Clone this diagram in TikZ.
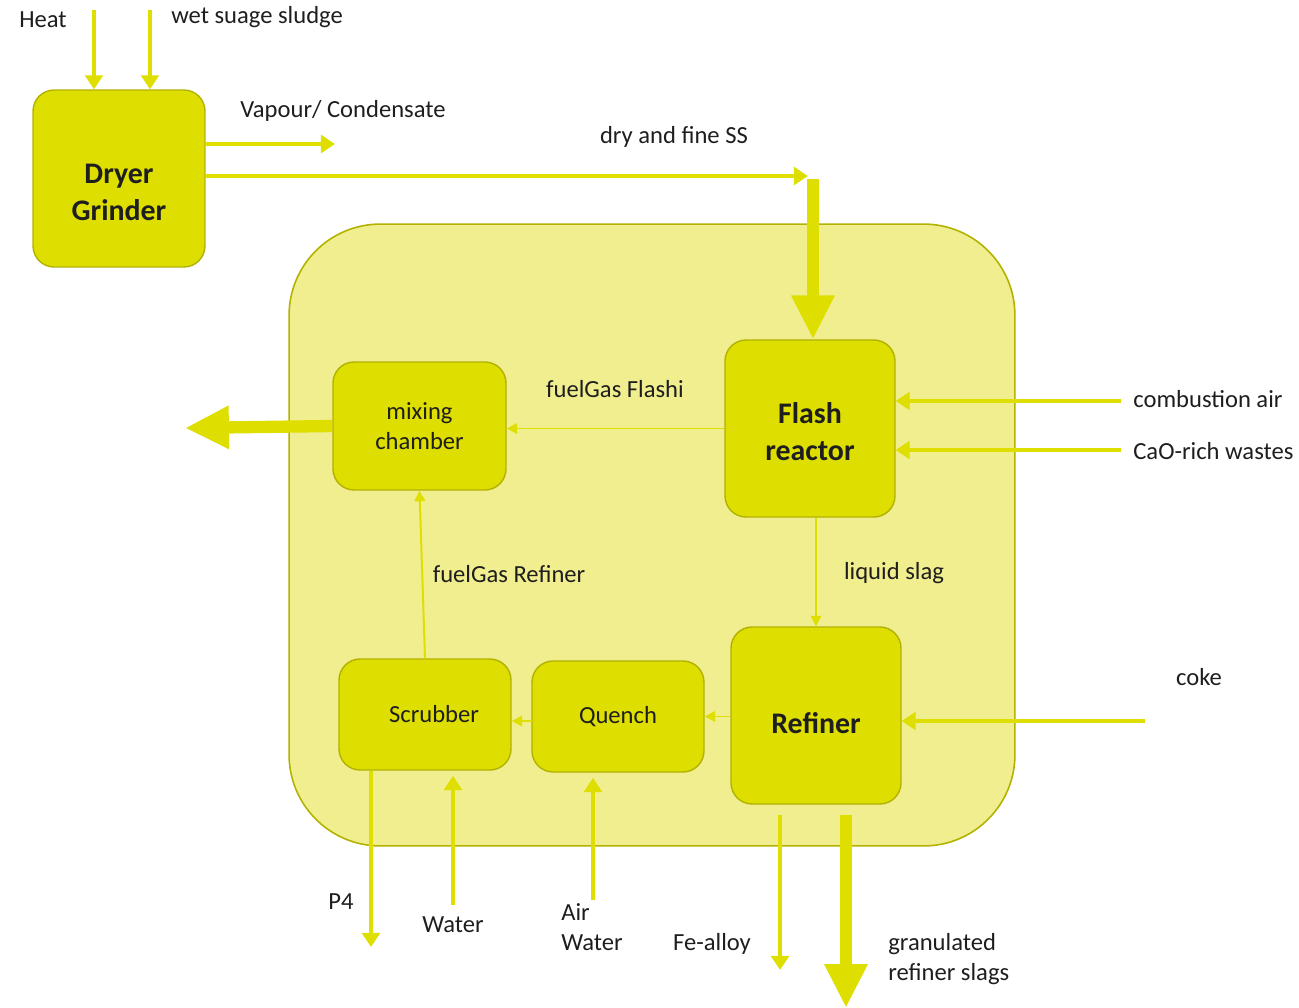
\documentclass[tikz,border=0pt]{standalone}
\usepackage{fontspec}
\setmainfont{Carlito}
\usetikzlibrary{arrows.meta}

\definecolor{unitfill}{HTML}{DEDE00}
\definecolor{unitline}{HTML}{B2B200}
\definecolor{plantfill}{HTML}{F0EE8E}
\definecolor{flow}{HTML}{DEDE00}
\definecolor{ink}{HTML}{1E1E1E}

\tikzset{
  unit/.style={draw=unitline, line width=0.8pt, fill=unitfill, rounded corners=12pt,
    inner sep=0pt, align=center, text=ink},
  plant/.style={draw=unitline, line width=0.9pt, fill=plantfill, rounded corners=52pt, inner sep=0pt},
  bigname/.style={font=\fontsize{17}{21}\selectfont\bfseries},
  smallname/.style={font=\fontsize{14}{17}\selectfont},
  % unit title set a little below the box centre
  lowname/.style 2 args={label={[bigname, align=center, text=ink, inner sep=0pt, yshift=#1]center:#2}},
  tag/.style={text=ink, font=\fontsize{14}{17}\selectfont, inner sep=0pt, align=left},
  thinflow/.style={draw=flow, line width=1.1pt, -{Triangle[width=6pt,length=6pt]}},
  medflow/.style={draw=flow, line width=2.6pt, -{Triangle[width=10pt,length=8pt]}},
  heavyflow/.style={draw=flow, line width=7pt, -{Triangle[width=23pt,length=25pt]}},
}

\begin{document}
\begin{tikzpicture}[x=0.02cm, y=-0.02cm]
  \useasboundingbox (0,0) rectangle (1299,1008);

  % process units
  \node[plant, minimum width=14.52cm, minimum height=12.44cm] (plant) at (652,535) {};
  \node[unit, minimum width=3.44cm, minimum height=3.54cm,
        lowname={-0.28cm}{Dryer\\Grinder}] (dryer) at (119,178.5) {};
  \node[unit, minimum width=3.4cm, minimum height=3.54cm,
        lowname={-0.06cm}{Flash\\reactor}] (flash) at (810,428.5) {};
  \node[unit, smallname, minimum width=3.46cm, minimum height=2.56cm] (mix) at (419.5,426) {mixing\\chamber};
  \node[unit, minimum width=3.4cm, minimum height=3.54cm,
        lowname={-0.15cm}{Refiner}] (refiner) at (816,715.5) {};
  \node[unit, smallname, minimum width=3.44cm, minimum height=2.22cm] (quench) at (618,716.5) {Quench};
  \node[unit, smallname, minimum width=3.44cm, minimum height=2.22cm] (scrub) at (425,714.5) {\hspace*{0.36cm}Scrubber};

  % free ends of the streams
  \coordinate (heatin) at (94,10);
  \coordinate (sludgein) at (150,10);
  \coordinate (vapout) at (335,144);
  \coordinate (ssbend) at (808,176);
  \coordinate (ssdrop) at (813,179);
  \coordinate (gasout) at (185,428);
  \coordinate (airin) at (1121,401);
  \coordinate (caoin) at (1121,450);
  \coordinate (cokein) at (1145,721);
  \coordinate (p4out) at (371,947);
  \coordinate (waterin) at (453,905);
  \coordinate (airwaterin) at (593,900);
  \coordinate (festart) at (780,815);
  \coordinate (feout) at (780,970);
  \coordinate (slagstart) at (846,815);
  \coordinate (slagout) at (846,1008);
  \coordinate (quenchgas) at (532,721);

  % drying stage
  \draw[medflow] (heatin) -- (heatin |- dryer.north);
  \draw[medflow] (sludgein) -- (sludgein |- dryer.north);
  \draw[medflow] (dryer.east |- vapout) -- (vapout);
  \draw[medflow] (dryer.east |- ssbend) -- (ssbend);
  \draw[heavyflow] (ssdrop) -- (ssdrop |- flash.north);

  % gas and slag routes inside the plant
  \draw[thinflow] (flash.west) -- (flash.west -| mix.east);
  \draw[heavyflow] (mix.west) -- (gasout);
  \draw[thinflow] (refiner.north |- flash.south) -- (refiner.north);
  \draw[thinflow] (refiner.west |- quench.west) -- (quench.east);
  \draw[thinflow] (quenchgas) -- (quenchgas -| scrub.east);
  \draw[thinflow] (scrub.north) -- (mix.south);

  % feeds and products
  \draw[medflow] (airin) -- (airin -| flash.east);
  \draw[medflow] (caoin) -- (caoin -| flash.east);
  \draw[medflow] (cokein) -- (cokein -| refiner.east);
  \draw[medflow] (p4out |- scrub.south) -- (p4out);
  \draw[medflow, shorten >=3pt] (waterin) -- (waterin |- scrub.south);
  \draw[medflow, shorten >=3pt] (airwaterin) -- (airwaterin |- quench.south);
  \draw[medflow] (festart) -- (feout);
  \draw[heavyflow] (slagstart) -- (slagout);

  % stream labels
  \node[tag] (theat) at (43,20) {Heat};
  \node[tag, anchor=west] (tsludge) at (171,17) {wet suage sludge};
  \node[tag, anchor=west] (tvap) at (240,111) {Vapour/ Condensate};
  \node[tag] (tss) at (674,137) {dry and fine SS};
  \node[tag] (tflashi) at (615,389) {fuelGas Flashi};
  \node[tag] (tslag) at (894,573) {liquid slag};
  \node[tag] (trefgas) at (509,574) {fuelGas Refiner};
  \node[tag, anchor=west] (tair) at (1133,399) {combustion air};
  \node[tag, anchor=west] (tcao) at (1133,451) {CaO-rich wastes};
  \node[tag] (tcoke) at (1199,677) {coke};
  \node[tag] (tp4) at (341,902) {P4};
  \node[tag] (twater) at (453,925) {Water};
  \node[tag, anchor=west] (tairwater) at (561,927) {Air\\Water};
  \node[tag] (tfe) at (712,944) {Fe-alloy};
  \node[tag, anchor=west] (tgran) at (888,959) {granulated\\refiner slags};
\end{tikzpicture}
\end{document}
